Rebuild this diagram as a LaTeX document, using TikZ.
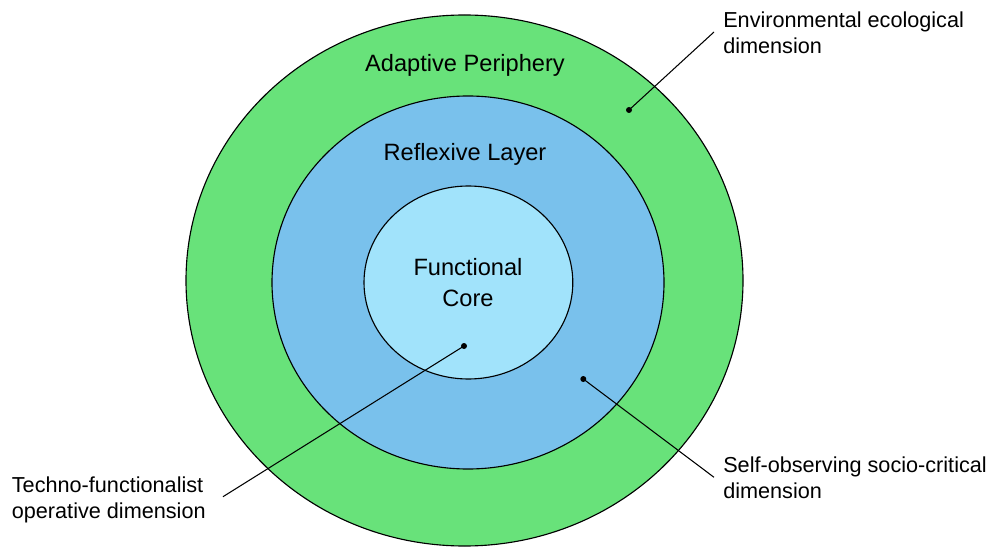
\documentclass[tikz,border=0pt]{standalone}
\usepackage{fontspec}
\setmainfont{Liberation Sans}
\usetikzlibrary{shapes.geometric}
\definecolor{periphery}{RGB}{104,226,122}
\definecolor{reflexive}{RGB}{121,193,236}
\definecolor{core}{RGB}{161,227,251}

\begin{document}
\begin{tikzpicture}[
    ring/.style={ellipse, draw=black, line width=0.8pt, inner sep=0pt},
    dot/.style={circle, fill=black, inner sep=0pt, minimum size=0.15cm},
    layer/.style={inner sep=0pt, font=\fontsize{16.8}{22}\selectfont, align=center},
    side/.style={inner sep=0pt, font=\fontsize{15.4}{18.4}\selectfont, align=left, anchor=base west}
  ]
    \useasboundingbox (0, 0) rectangle (24.8, 13.675);
    \node(outer)[ring, fill=periphery, minimum width=13.925cm, minimum height=13.275cm] at (11.6125, 6.6625) {};
    \node(middle)[ring, fill=reflexive, minimum width=9.8cm, minimum height=9.325cm] at (11.7, 6.6125) {};
    \node(inner)[ring, fill=core, minimum width=5.22cm, minimum height=4.825cm] at (11.71, 6.6125) {};
    \node(ap)[layer, anchor=base] at (11.625, 11.8825) {Adaptive Periphery};
    \node(rl)[layer, anchor=base] at (11.625, 9.65) {Reflexive Layer};
    % base of a two-line node is its last line
    \node(fc)[layer, anchor=base] at (11.7, 6.025) {Functional\\Core};
    \node(env)[side] at (18.075, 12.3425) {Environmental ecological\\dimension};
    \node(self)[side] at (18.075, 1.225) {Self-observing socio-critical\\dimension};
    \node(techno)[side] at (0.29, 0.7175) {Techno-functionalist\\operative dimension};
    \node(envdot)[dot] at (15.725, 10.925) {};
    \node(rldot)[dot] at (14.5825, 4.2) {};
    \node(fcdot)[dot] at (11.6, 5.025) {};
    \coordinate(envend) at (17.85, 12.875);
    \coordinate(selfend) at (17.85, 1.7425);
    \coordinate(technoend) at (5.575, 1.2575);
    \draw[line width=0.75pt] (envdot.center)--(envend);
    \draw[line width=0.75pt] (rldot.center)--(selfend);
    \draw[line width=0.75pt] (fcdot.center)--(technoend);
  \end{tikzpicture}
\end{document}
